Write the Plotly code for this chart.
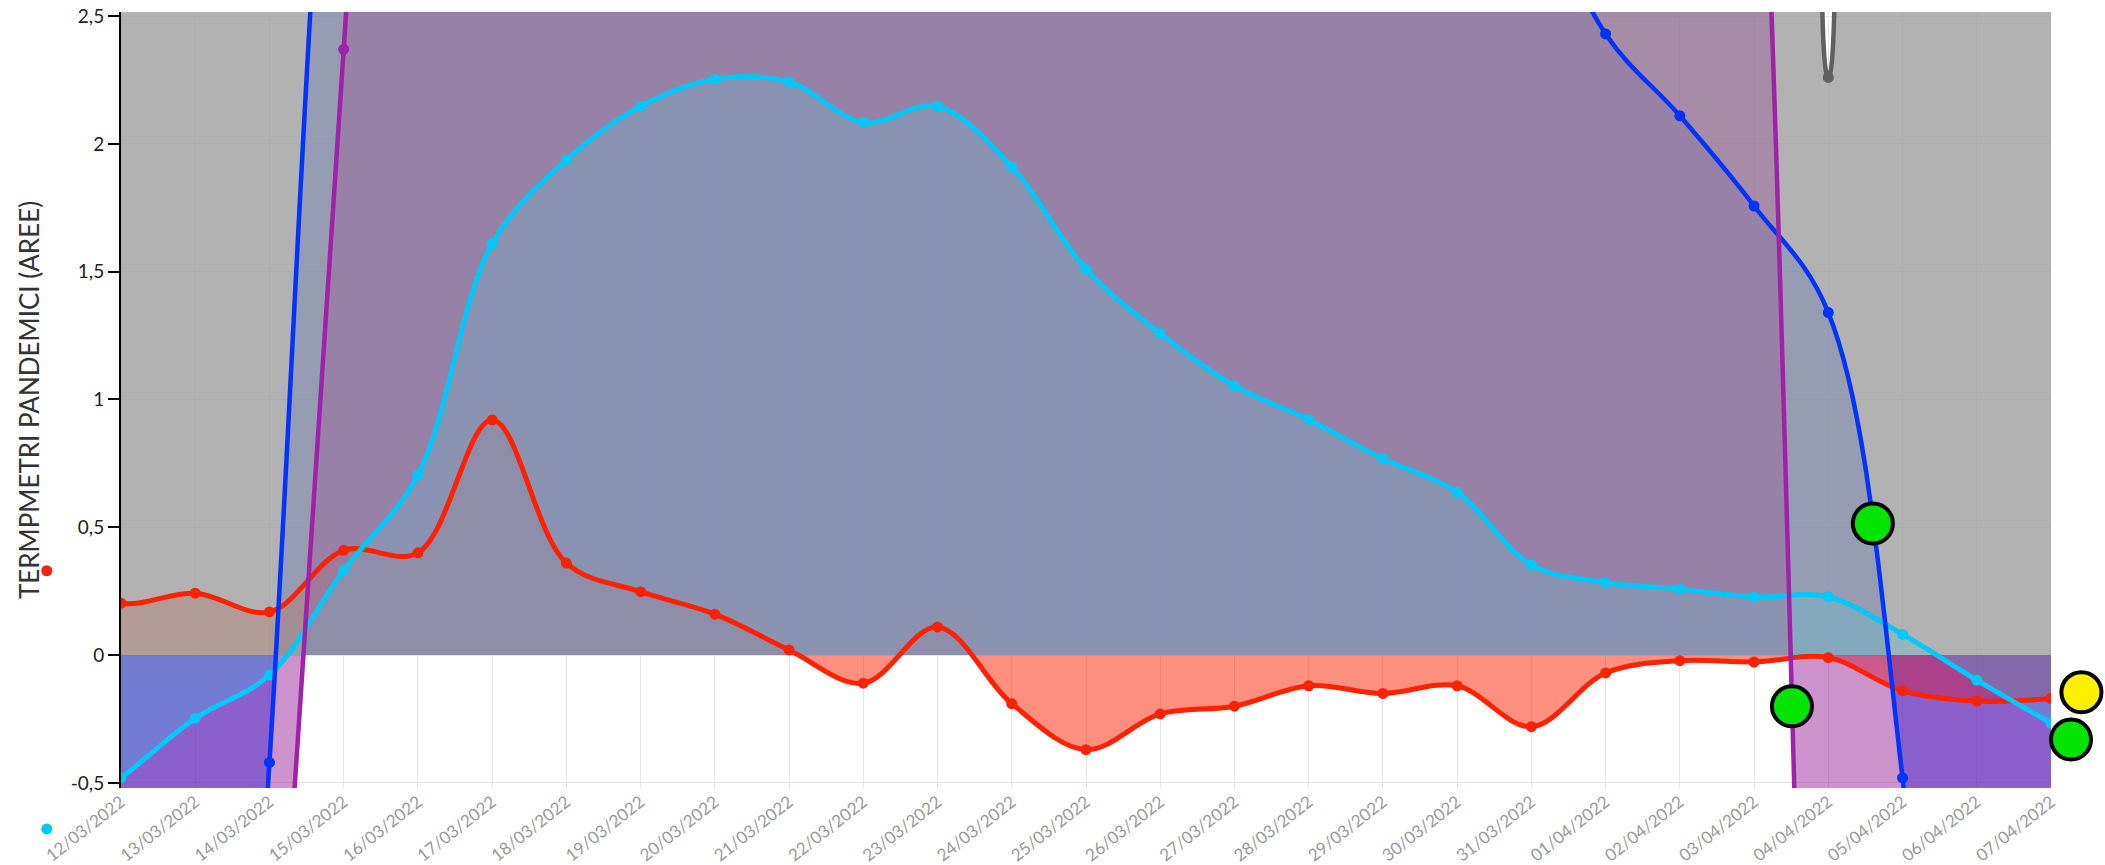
import plotly.graph_objects as go

# giorni dall'11/03/2022 al 07/04/2022 (l'asse mostra dal 12/03)
dates = ['11/03/2022', '12/03/2022', '13/03/2022', '14/03/2022', '15/03/2022', '16/03/2022',
         '17/03/2022', '18/03/2022', '19/03/2022', '20/03/2022', '21/03/2022', '22/03/2022',
         '23/03/2022', '24/03/2022', '25/03/2022', '26/03/2022', '27/03/2022', '28/03/2022',
         '29/03/2022', '30/03/2022', '31/03/2022', '01/04/2022', '02/04/2022', '03/04/2022',
         '04/04/2022', '05/04/2022', '06/04/2022', '07/04/2022']
day = list(range(-1, len(dates) - 1))
tick_days = day[1:]
tick_labels = dates[1:]

red_vals = [0.33, 0.203, 0.242, 0.169, 0.41, 0.40, 0.92, 0.36, 0.248, 0.16, 0.02,
            -0.11, 0.11, -0.19, -0.37, -0.23, -0.20, -0.12, -0.15, -0.12, -0.28,
            -0.07, -0.022, -0.027, -0.01, -0.14, -0.18, -0.17]
cyan_vals = [-0.68, -0.48, -0.247, -0.078, 0.332, 0.705, 1.61, 1.937, 2.147, 2.253,
             2.242, 2.084, 2.147, 1.91, 1.51, 1.258, 1.053, 0.921, 0.768, 0.637,
             0.353, 0.284, 0.258, 0.228, 0.228, 0.081, -0.098, -0.266]
blue_vals = [-14.2, -9.6, -5.0, -0.42, 4.2, 6.0, 7.0, 7.5, 7.8, 8.0, 7.9, 7.6, 7.3,
             6.9, 6.4, 5.9, 5.3, 4.8, 4.3, 3.7, 3.05, 2.43, 2.11, 1.757, 1.34, -0.48,
             -4.2, -8.5]
purple_vals = [-10.0, -8.5, -6.4, -2.0, 2.37, 6.7, 9.0, 10.0, 10.0, 10.0, 10.0, 10.0,
               10.0, 10.0, 10.0, 10.0, 10.0, 10.0, 10.0, 10.0, 10.0, 10.0, 8.0, 4.1,
               -4.5, -9.0, -11.0, -12.0]
gray_vals = [9.0, 9.0, 9.0, 9.0, 9.0, 9.0, 9.0, 9.0, 9.0, 9.0, 9.0, 9.0, 9.0, 9.0,
             9.0, 9.0, 9.0, 9.0, 9.0, 9.0, 9.0, 9.0, 9.0, 9.0, 2.26, 9.0, 9.0, 9.0]

# indicatori (cerchi)
green_x = [22.51, 23.6, 26.27]
green_y = [-0.2, 0.515, -0.33]
yellow_x = [26.41]
yellow_y = [-0.145]

ytick_vals = [-0.5, 0, 0.5, 1, 1.5, 2, 2.5]
ytick_text = ['-0,5', '0', '0,5', '1', '1,5', '2', '2,5']

W, H = 2105, 865
L, R, T, B = 121, 54, 12, 77
x_rng = [0, 26]
y_rng = [-0.52, 2.516]
px_day = (W - L - R) / (x_rng[1] - x_rng[0])
px_unit = (H - T - B) / (y_rng[1] - y_rng[0])

fig = go.Figure()

# aree: alcune sotto il grigio, altre sopra
fills = [
    (blue_vals, 'rgba(0,51,255,0.5)'),
    (red_vals, 'rgba(255,34,0,0.5)'),
    (cyan_vals, 'rgba(0,200,255,0.3)'),
    (purple_vals, 'rgba(153,39,153,0.41)'),
    (gray_vals, 'rgba(156,156,156,0.78)'),
    (purple_vals, 'rgba(153,39,153,0.15)'),
    (cyan_vals, 'rgba(85,230,240,0.16)'),
]
for vals, fc in fills:
    fig.add_trace(go.Scatter(x=day, y=vals, mode='lines', fill='tozeroy', fillcolor=fc,
                             line=dict(width=0, shape='spline', simplify=False),
                             hoverinfo='skip', showlegend=False))

lines = [
    (red_vals, '#ff2200', 5),
    (cyan_vals, '#00c8fa', 5),
    (blue_vals, '#0033ff', 4.5),
    (purple_vals, '#a022a8', 4.5),
    (gray_vals, '#606060', 4.5),
]
for vals, col, w in lines:
    fig.add_trace(go.Scatter(x=day, y=vals, mode='lines+markers',
                             line=dict(color=col, width=w, shape='spline', simplify=False),
                             marker=dict(color=col, size=11), showlegend=False))

# secondo riferimento su tutta la figura, per i punti fuori dall'area del grafico
fig.add_trace(go.Scatter(x=[day[0], day[0]], y=[red_vals[0], cyan_vals[0]], mode='markers',
                         xaxis='x2', yaxis='y2', cliponaxis=False,
                         marker=dict(color=['#ff2200', '#00c8fa'], size=11),
                         hoverinfo='skip', showlegend=False))
fig.add_trace(go.Scatter(x=green_x, y=green_y, mode='markers', xaxis='x2', yaxis='y2',
                         cliponaxis=False,
                         marker=dict(color='#00e400', size=40, line=dict(color='black', width=4)),
                         showlegend=False))
fig.add_trace(go.Scatter(x=yellow_x, y=yellow_y, mode='markers', xaxis='x2', yaxis='y2',
                         cliponaxis=False,
                         marker=dict(color='#fff000', size=40, line=dict(color='black', width=4)),
                         showlegend=False))

fig.update_layout(
    width=W, height=H,
    margin=dict(l=0, r=0, t=0, b=0),
    paper_bgcolor='white', plot_bgcolor='rgba(0,0,0,0)',
    font=dict(family='Lato', size=19, color='#222'),
    xaxis=dict(domain=[L / W, (W - R) / W], range=x_rng, tickvals=tick_days, ticktext=tick_labels,
               tickangle=-38, tickfont=dict(size=17, color='#999999'),
               showgrid=True, gridcolor='#e6e6e6', gridwidth=1,
               showline=False, zeroline=False, ticks='', automargin=False),
    yaxis=dict(domain=[B / H, (H - T) / H], range=y_rng, tickvals=ytick_vals, ticktext=ytick_text,
               showgrid=True, gridcolor='#e6e6e6', gridwidth=1, zeroline=False,
               showline=True, linecolor='black', linewidth=2,
               ticks='outside', ticklen=11, tickwidth=2, tickcolor='black', automargin=False,
               title=dict(text='TERMPMETRI PANDEMICI (AREE)', standoff=24,
                          font=dict(size=26, color='#333'))),
    xaxis2=dict(domain=[0, 1], anchor='y2', visible=False,
                range=[x_rng[0] - L / px_day, x_rng[1] + R / px_day]),
    yaxis2=dict(domain=[0, 1], anchor='x2', visible=False,
                range=[y_rng[0] - B / px_unit, y_rng[1] + T / px_unit]),
)

fig.write_html('out.html', config={'displayModeBar': False},
               post_script="document.body.style.margin='0px';")
